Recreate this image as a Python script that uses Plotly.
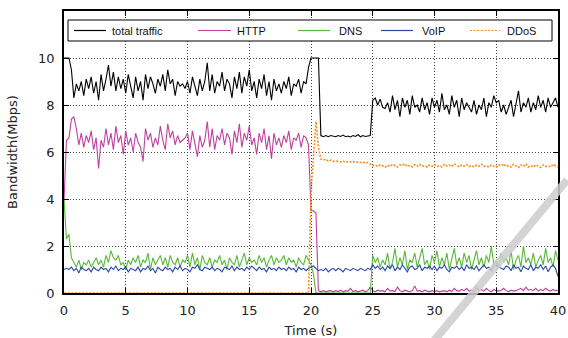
import plotly.graph_objects as go

# time axis: 0 .. 40 s, sampled every 0.2 s
STEP = 0.2
N = 201
time_s = [round(i * STEP, 1) for i in range(N)]

total_traffic = [
    10.0, 10.0, 10.0, 9.5, 8.3, 8.9, 8.6, 9.0, 8.4, 9.1,
    8.7, 9.2, 8.5, 9.0, 8.2, 9.3, 8.6, 9.1, 9.7, 8.8,
    9.4, 8.6, 9.2, 8.7, 9.1, 8.5, 9.3, 8.8, 8.3, 9.2,
    8.6, 9.0, 8.2, 9.3, 8.7, 9.2, 8.9, 8.5, 9.1, 8.8,
    9.3, 8.6, 9.5, 8.9, 9.1, 8.4, 9.0, 8.8, 8.9, 8.7,
    9.0, 8.5, 9.2, 8.8, 8.4, 9.1, 8.6, 9.0, 9.8, 8.6,
    9.3, 8.5, 9.0, 8.8, 9.4, 8.6, 9.1, 8.9, 8.3, 9.2,
    8.7, 9.4, 8.5, 9.2, 8.8, 9.5, 8.6, 9.0, 8.3, 9.1,
    8.7, 9.3, 8.4, 9.0, 8.2, 9.1, 8.6, 8.9, 8.5, 9.0,
    8.7, 9.2, 8.4, 8.9, 8.8, 9.1, 8.5, 9.0, 8.9, 9.6,
    10.0, 10.0, 10.0, 10.0, 6.7, 6.65, 6.7, 6.65, 6.7, 6.68,
    6.65, 6.7, 6.66, 6.72, 6.65, 6.68, 6.64, 6.7, 6.66, 6.74,
    6.65, 6.7, 6.66, 6.68, 6.7, 8.2, 8.3, 8.0, 8.25, 7.9,
    7.85, 8.1, 7.7, 8.4, 7.8, 8.2, 7.5, 8.3, 7.9, 8.2,
    7.6, 8.4, 7.9, 8.0, 7.7, 8.3, 7.8, 8.1, 7.6, 8.3,
    7.9, 8.2, 7.7, 8.5, 7.8, 8.0, 7.6, 8.4, 7.9, 8.2,
    7.5, 8.3, 7.8, 8.1, 7.9, 7.7, 8.2, 7.6, 8.0, 7.8,
    8.3, 7.5, 8.1, 7.9, 8.4, 8.1, 8.2, 7.7, 8.0, 7.6,
    7.9, 8.2, 7.5, 8.0, 8.6, 7.7, 8.1, 7.9, 8.3, 7.7,
    8.1, 7.8, 8.4, 7.9, 8.2, 7.7, 8.3, 7.9, 8.1, 8.3, 7.9,
]

http = [
    3.9, 6.5, 6.6, 7.4, 7.5, 7.0, 6.3, 6.8, 6.2, 6.7,
    6.4, 6.9, 6.1, 6.6, 5.3, 6.5, 6.2, 7.0, 6.3, 6.8,
    6.1, 7.1, 6.4, 6.7, 5.9, 6.9, 6.3, 6.6, 6.0, 6.8,
    6.4, 6.2, 5.6, 7.0, 6.5, 6.8, 6.2, 6.6, 6.3, 7.1,
    6.5, 6.1, 7.2, 6.6, 6.9, 6.3, 6.7, 6.4, 6.5, 6.6,
    6.8, 6.1, 6.9, 6.4, 5.8, 6.7, 6.2, 6.5, 7.3, 6.2,
    7.0, 6.1, 6.7, 6.5, 7.0, 6.3, 6.8, 6.6, 5.9, 6.9,
    6.4, 7.2, 6.2, 6.8, 6.5, 7.1, 6.3, 6.6, 5.9, 6.8,
    6.4, 7.0, 6.1, 6.7, 5.7, 6.8, 6.3, 6.6, 6.2, 6.7,
    6.4, 6.9, 6.1, 6.6, 6.5, 6.8, 6.2, 6.7, 6.6, 6.3,
    3.5, 3.5, 3.4, 0.1, 0.05, 0.1, 0.05, 0.08, 0.1, 0.05,
    0.1, 0.06, 0.12, 0.05, 0.1, 0.08, 0.2, 0.06, 0.1, 0.05,
    0.08, 0.12, 0.05, 0.1, 0.25, 0.1, 0.05, 0.12, 0.08, 0.1,
    0.05, 0.2, 0.08, 0.1, 0.06, 0.25, 0.1, 0.05, 0.12, 0.08,
    0.05, 0.1, 0.3, 0.08, 0.1, 0.05, 0.12, 0.08, 0.05, 0.1,
    0.06, 0.1, 0.05, 0.08, 0.1, 0.05, 0.12, 0.06, 0.2, 0.1,
    0.08, 0.15, 0.1, 0.2, 0.08, 0.12, 0.05, 0.25, 0.1, 0.15,
    0.08, 0.2, 0.1, 0.05, 0.15, 0.1, 0.08, 0.12, 0.2, 0.1,
    0.05, 0.12, 0.08, 0.1, 0.15, 0.2, 0.1, 0.25, 0.12, 0.15,
    0.1, 0.2, 0.08, 0.15, 0.1, 0.2, 0.12, 0.08, 0.15, 0.1, 0.12,
]

dns = [
    4.0, 2.3, 2.5, 1.5, 1.3, 1.1, 1.4, 1.0, 1.3, 1.2,
    1.4, 1.1, 1.3, 1.5, 1.2, 1.4, 1.1, 1.6, 1.3, 1.8,
    1.5, 1.4, 1.6, 1.2, 1.3, 1.0, 1.4, 1.2, 1.5, 1.3,
    1.6, 1.1, 1.4, 1.3, 1.7, 1.0, 1.5, 1.2, 1.4, 1.6,
    1.2, 1.5, 1.1, 1.6, 1.3, 1.2, 1.5, 1.1, 1.4, 1.3,
    1.6, 1.1, 1.7, 1.2, 1.5, 1.0, 1.6, 1.3, 1.2, 1.5,
    1.1, 1.4, 1.3, 1.6, 1.2, 1.4, 1.0, 1.5, 1.3, 1.2,
    1.6, 1.1, 1.4, 1.7, 1.2, 1.5, 1.3, 1.4, 1.2, 1.6,
    1.3, 1.5, 1.1, 1.4, 1.6, 1.2, 1.5, 1.3, 1.4, 1.6,
    1.2, 1.5, 1.3, 1.4, 1.1, 1.5, 1.3, 1.2, 1.6, 1.4,
    1.2, 0.8, 0.0, 0.0, 0.0, 0.0, 0.0, 0.0, 0.0, 0.0,
    0.0, 0.0, 0.0, 0.0, 0.0, 0.0, 0.0, 0.0, 0.0, 0.0,
    0.0, 0.0, 0.0, 0.0, 0.0, 1.6, 1.3, 1.5, 1.1, 1.4,
    1.2, 1.7, 1.0, 1.3, 1.9, 1.1, 1.5, 1.2, 1.8, 1.0,
    1.4, 1.3, 1.7, 1.1, 1.5, 1.9, 1.2, 1.4, 1.0, 1.6,
    1.3, 1.8, 1.1, 1.5, 1.2, 1.7, 1.0, 1.4, 1.9, 1.2,
    1.5, 1.1, 1.7, 1.3, 1.6, 1.0, 1.4, 1.8, 1.2, 1.5,
    1.1, 1.6, 1.3, 2.0, 1.2, 1.4, 1.1, 1.7, 1.3, 1.5,
    1.2, 1.8, 1.0, 1.4, 1.6, 1.1, 2.0, 1.3, 1.5, 1.2,
    1.7, 1.1, 1.4, 1.6, 1.2, 1.9, 1.3, 1.5, 1.1, 1.8, 1.4,
]

voip = [
    1.0, 1.05, 1.0, 1.1, 0.95, 1.05, 0.85, 1.1, 1.0, 0.95,
    1.05, 0.9, 1.1, 1.0, 0.95, 1.1, 1.0, 1.05, 0.9, 1.1,
    1.0, 1.15, 0.95, 1.05, 1.0, 1.1, 0.9, 1.05, 1.0, 0.95,
    1.1, 0.9, 1.05, 1.0, 1.15, 0.95, 1.05, 0.85, 1.1, 1.0,
    0.95, 1.1, 1.0, 1.05, 0.9, 1.1, 1.0, 1.15, 0.95, 1.05,
    1.0, 0.9, 1.1, 1.05, 1.2, 1.0, 0.95, 1.1, 1.05, 1.0,
    1.1, 0.95, 1.05, 1.0, 0.9, 1.1, 1.05, 1.0, 1.15, 0.95,
    1.1, 1.0, 1.05, 0.95, 1.1, 1.0, 1.15, 1.05, 0.95, 1.1,
    1.0, 1.05, 0.9, 1.1, 1.0, 1.05, 0.95, 1.1, 1.0, 1.05,
    0.95, 1.1, 1.0, 1.05, 0.9, 1.1, 1.0, 1.05, 0.95, 1.05,
    1.1, 1.15, 1.05, 0.95, 1.0, 0.95, 1.05, 0.9, 1.0, 1.05,
    0.95, 1.05, 1.0, 0.9, 1.05, 1.0, 0.95, 1.05, 1.0, 0.95,
    1.05, 1.0, 0.95, 1.05, 1.0, 1.2, 1.05, 1.15, 1.0, 1.1,
    0.95, 1.15, 1.05, 1.2, 0.95, 1.1, 1.0, 1.2, 1.05, 0.9,
    1.1, 1.15, 1.0, 1.05, 1.2, 0.95, 1.1, 1.05, 1.15, 1.0,
    1.15, 0.95, 1.1, 1.05, 1.2, 1.0, 0.9, 1.1, 1.05, 1.15,
    1.0, 1.1, 0.95, 1.2, 1.05, 1.1, 1.0, 1.15, 0.95, 1.1,
    1.2, 1.05, 1.1, 0.95, 1.15, 1.2, 1.1, 1.05, 1.0, 1.15,
    1.1, 0.95, 1.2, 1.05, 1.1, 0.9, 1.15, 1.05, 1.0, 1.2,
    0.95, 1.1, 1.05, 1.2, 1.0, 1.15, 0.9, 1.1, 1.2, 1.05, 0.7,
]

ddos = [
    0, 0, 0, 0, 0, 0, 0, 0, 0, 0,
    0, 0, 0, 0, 0, 0, 0, 0, 0, 0,
    0, 0, 0, 0, 0, 0, 0, 0, 0, 0,
    0, 0, 0, 0, 0, 0, 0, 0, 0, 0,
    0, 0, 0, 0, 0, 0, 0, 0, 0, 0,
    0, 0, 0, 0, 0, 0, 0, 0, 0, 0,
    0, 0, 0, 0, 0, 0, 0, 0, 0, 0,
    0, 0, 0, 0, 0, 0, 0, 0, 0, 0,
    0, 0, 0, 0, 0, 0, 0, 0, 0, 0,
    0, 0, 0, 0, 0, 0, 0, 0, 0, 0,
    4.3, 6.0, 7.3, 6.2, 5.7, 5.65, 5.7, 5.6, 5.65, 5.6,
    5.62, 5.6, 5.58, 5.62, 5.55, 5.6, 5.57, 5.6, 5.55, 5.58,
    5.55, 5.58, 5.52, 5.56, 5.5, 5.42, 5.45, 5.38, 5.46, 5.4,
    5.35, 5.44, 5.38, 5.48, 5.4, 5.36, 5.45, 5.42, 5.5, 5.38,
    5.44, 5.36, 5.46, 5.4, 5.48, 5.38, 5.42, 5.35, 5.45, 5.4,
    5.47, 5.38, 5.42, 5.36, 5.48, 5.4, 5.44, 5.38, 5.5, 5.42,
    5.36, 5.45, 5.4, 5.47, 5.38, 5.43, 5.35, 5.44, 5.4, 5.48,
    5.38, 5.42, 5.36, 5.45, 5.4, 5.35, 5.46, 5.4, 5.5, 5.38,
    5.44, 5.36, 5.48, 5.4, 5.34, 5.45, 5.38, 5.5, 5.36, 5.42,
    5.35, 5.46, 5.4, 5.34, 5.45, 5.38, 5.42, 5.36, 5.47, 5.4, 5.35,
]

series_names = ["total traffic", "HTTP", "DNS", "VoIP", "DDoS"]
series_values = [total_traffic, http, dns, voip, ddos]
series_colors = ["#000000", "#c040a0", "#58b838", "#2c48a8", "#ff8c1a"]
series_dash = ["solid", "solid", "solid", "solid", "2px,1.6px"]
series_width = [1.1, 1.1, 1.1, 1.1, 1.6]

x_ticks = [0, 5, 10, 15, 20, 25, 30, 35, 40]
y_ticks = [0, 2, 4, 6, 8, 10]

# ---- layout geometry (pixels) ----
W, H = 568, 338
ML, MR, MT, MB = 64, 10, 11, 45
PW, PH = W - ML - MR, H - MT - MB


def px_x(px):
    return (px - ML) / PW


def px_y(py):
    return (H - MB - py) / PH


fig = go.Figure()
for name, vals, col, dash, w in zip(series_names, series_values, series_colors,
                                    series_dash, series_width):
    fig.add_trace(go.Scatter(
        x=time_s, y=vals, name=name, mode="lines", showlegend=False,
        line=dict(color=col, width=w, dash=dash),
    ))

axis_common = dict(
    showline=True, linecolor="#000000", linewidth=1.5, mirror="ticks",
    ticks="inside", ticklen=5, tickcolor="#000000", tickwidth=1,
    showgrid=True, gridcolor="#444444", gridwidth=1, griddash="1px,2px",
    zeroline=False, automargin=False, ticklabelstandoff=5,
    tickfont=dict(family="DejaVu Sans", size=13, color="#222222"),
)

fig.update_xaxes(range=[0, 40], tickvals=x_ticks,
                 title=dict(text="Time (s)", standoff=10,
                            font=dict(family="DejaVu Sans", size=13, color="#222222")),
                 **axis_common)
fig.update_yaxes(range=[0, 12], tickvals=y_ticks,
                 title=dict(text="Bandwidth(Mbps)", standoff=18,
                            font=dict(family="DejaVu Sans", size=13, color="#222222")),
                 **axis_common)

# ---- hand-built legend box (one row, gnuplot style) ----
legend_box = (68, 20, 552, 41)
legend_line_x = [(74, 106), (198, 231), (298, 330), (381, 413), (470, 500)]
legend_text_x = [110, 235, 337, 420, 505]
legend_row_y = 30.5

shapes = [dict(
    type="rect", xref="paper", yref="paper",
    x0=px_x(legend_box[0]), x1=px_x(legend_box[2]),
    y0=px_y(legend_box[3]), y1=px_y(legend_box[1]),
    line=dict(color="#000000", width=1), fillcolor="#ffffff", layer="above",
)]
annotations = []
for name, col, dash, (lx0, lx1), tx in zip(series_names, series_colors, series_dash,
                                           legend_line_x, legend_text_x):
    shapes.append(dict(
        type="line", xref="paper", yref="paper",
        x0=px_x(lx0), x1=px_x(lx1), y0=px_y(legend_row_y), y1=px_y(legend_row_y),
        line=dict(color=col, width=1.2, dash=dash), layer="above",
    ))
    annotations.append(dict(
        text=name, xref="paper", yref="paper", x=px_x(tx), y=px_y(legend_row_y),
        xanchor="left", yanchor="middle", showarrow=False,
        font=dict(family="Liberation Sans", size=11, color="#111111"),
    ))

# light gray diagonal stripe across the lower right corner
shapes.append(dict(
    type="line", xref="paper", yref="paper",
    x0=px_x(567), y0=px_y(180), x1=px_x(428), y1=px_y(348),
    line=dict(color="rgba(205,205,205,0.85)", width=8),
    layer="above",
))

fig.update_layout(
    width=W, height=H,
    margin=dict(l=ML, r=MR, t=MT, b=MB),
    plot_bgcolor="#ffffff", paper_bgcolor="#ffffff",
    showlegend=False,
    shapes=shapes,
    annotations=annotations,
)

fig.write_html(
    "out.html",
    config={"displayModeBar": False},
    post_script="document.body.style.margin='0';document.body.style.overflow='hidden';",
)
